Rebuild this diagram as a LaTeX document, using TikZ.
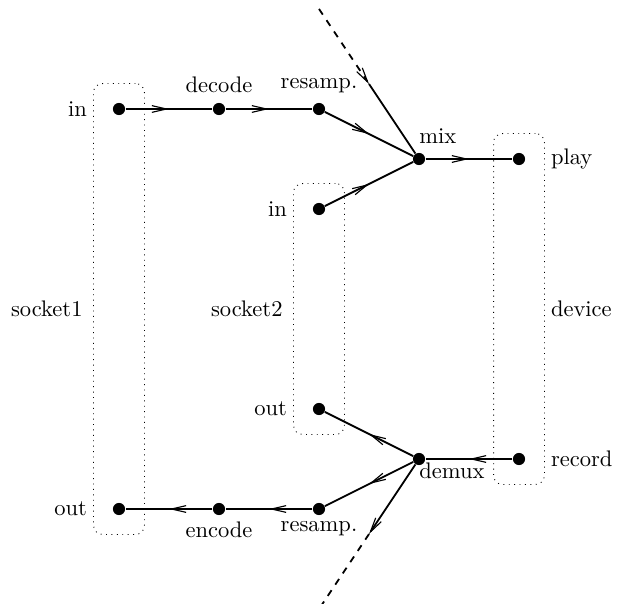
\documentclass[tikz,border=0pt]{standalone}
\usetikzlibrary{arrows.meta,decorations.markings,fit,calc,positioning}

\tikzset{
  >={Straight Barb[length=6.5pt,width=3pt,line width=0.5pt]},
  dot/.style={circle,fill,inner sep=0pt,minimum size=5.4pt},
  link/.style={thick,postaction={decorate},
    decoration={markings,mark=at position 0.5 with {\arrow{>}}}},
  box/.style={draw,dotted,rounded corners=4pt,inner sep=8.4pt},
  lbl/.style={inner sep=2.5pt},
}

\begin{document}
\begin{tikzpicture}[x=1.56cm,y=1.56cm]
        \useasboundingbox (-1.19,-0.94) rectangle (4.99,5.09);
        % узлы
        \node[dot] (in1) at (0,4) {};
        \node[dot] (dec) at (1,4) {};
        \node[dot] (rsa) at (2,4) {};
        \node[dot] (mix) at (3,3.5) {};
        \node[dot] (play) at (4,3.5) {};
        \node[dot] (in2) at (2,3) {};
        \node[dot] (out2) at (2,1) {};
        \node[dot] (demux) at (3,0.5) {};
        \node[dot] (rec) at (4,0.5) {};
        \node[dot] (out1) at (0,0) {};
        \node[dot] (enc) at (1,0) {};
        \node[dot] (rsb) at (2,0) {};

        \coordinate (top) at (2,5);
        \coordinate (bot) at (2,-1);
        \coordinate (topm) at ($(top)!.5!(mix)$);
        \coordinate (botm) at ($(demux)!.5!(bot)$);

        % рамки
        \node[box,fit=(in1)(out1)] (sock1) {};
        \node[box,fit=(in2)(out2)] (sock2) {};
        \node[box,fit=(play)(rec)] (dev) {};

        % подписи
        \node[lbl,above=1.5pt of dec] (decl) {decode};
        \node[lbl,above=1.5pt of rsa] (rsal) {resamp.};
        \node[lbl,below=0pt of enc] (encl) {encode};
        \node[lbl,below=0pt of rsb] (rsbl) {resamp.};
        \node[lbl,anchor=south west,xshift=-2.5pt,yshift=1.5pt] (mixl) at (mix.north) {mix};
        \node[lbl,anchor=north west,xshift=-2.5pt,yshift=1pt] (demuxl) at (demux) {demux};
        \node[lbl,anchor=east] (in1l) at (sock1.west |- in1) {in};
        \node[lbl,anchor=east] (out1l) at (sock1.west |- out1) {out};
        \node[lbl,anchor=east] (in2l) at (sock2.west |- in2) {in};
        \node[lbl,anchor=east] (out2l) at (sock2.west |- out2) {out};
        \node[lbl,left=2pt of sock1] (sock1l) {socket1};
        \node[lbl,left=2pt of sock2] (sock2l) {socket2};
        \node[lbl,anchor=west] (playl) at (dev.east |- play) {play};
        \node[lbl,anchor=west] (recl) at (dev.east |- rec) {record};
        \node[lbl,right=0pt of dev] (devl) {device};

        % связи
        \draw[link] (in1) -- (dec);
        \draw[link] (dec) -- (rsa);
        \draw[link] (rsa) -- (mix);
        \draw[link] (in2) -- (mix);
        \draw[link] (mix) -- (play);
        \draw[thick,dashed,->] (top) -- (topm);
        \draw[thick] (topm) -- (mix);

        \draw[link] (rec) -- (demux);
        \draw[link] (demux) -- (out2);
        \draw[link] (demux) -- (rsb);
        \draw[link] (rsb) -- (enc);
        \draw[link] (enc) -- (out1);
        \draw[thick,->] (demux) -- (botm);
        \draw[thick,dashed] (botm) -- (bot);
    \end{tikzpicture}
\end{document}
